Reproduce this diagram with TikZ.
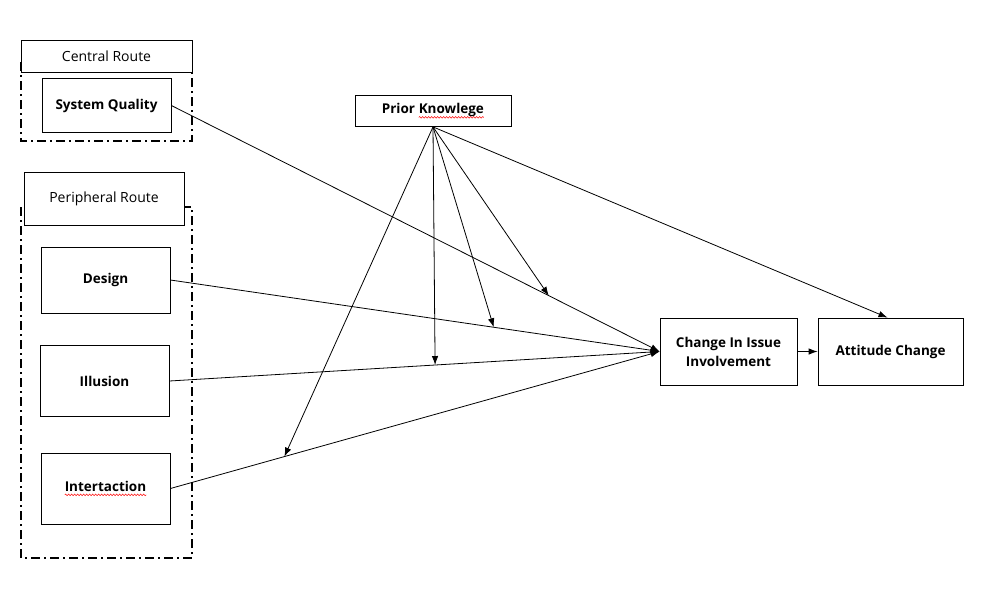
\documentclass[tikz,border=0pt]{standalone}
\usepackage{fontspec}
\setmainfont{Open Sans}
\usetikzlibrary{arrows.meta,calc,decorations.pathmorphing}
\newcommand\spellwave[1]{\tikz[baseline=(sw.base)]{\node[draw=none,fill=none,inner sep=0pt,outer sep=0pt,minimum width=0pt,minimum height=0pt,text height=,text depth=] (sw) {#1};
  \draw[red,line width=0.5pt,decorate,decoration={snake,amplitude=0.8pt,segment length=3pt}] ($(sw.base west)+(0pt,-3.5pt)$) -- ($(sw.base east)+(0pt,-3.5pt)$);}}
\begin{document}
\begin{tikzpicture}[x=1pt,y=-1pt,
  box/.style={draw=black,line width=0.8pt,fill=white,inner sep=0pt,align=center,font=\fontsize{13.5}{19}\selectfont\bfseries},
  lab/.style={draw=black,line width=0.8pt,fill=white,inner sep=0pt,align=center,font=\fontsize{14}{16}\selectfont},
  frame/.style={line width=2.6pt,dash pattern=on 9pt off 4pt on 2pt off 4pt},
  arr/.style={line width=0.8pt,-{Latex[length=9pt,width=6.5pt]}}]
\useasboundingbox (0,0) rectangle (1008,589);
\fill[white] (0,0) rectangle (1008,589);
% frames
\draw[frame] (21,62) rectangle (192,141);
\draw[frame] (21,207) rectangle (192,558);
% boxes
\node[lab,minimum width=171pt,minimum height=32pt] (cr) at (106.5,56) {Central Route};
\node[box,minimum width=129pt,minimum height=54pt] (sq) at (106.5,105.5) {System Quality};
\node[lab,minimum width=160pt,minimum height=53pt] (pr) at (104,198.5) {Peripheral Route};
\node[box,minimum width=129pt,minimum height=66pt] (de) at (105.5,280) {Design};
\node[box,minimum width=129pt,minimum height=71pt] (il) at (104.5,381) {Illusion};
\node[box,minimum width=129pt,minimum height=71pt] (it) at (105.5,488.5) {\spellwave{Intertaction}};
\node[box,minimum width=156pt,minimum height=31pt] (pk) at (433,111) {Prior \spellwave{Knowlege}};
\node[box,minimum width=137pt,minimum height=67pt] (ch) at (728.5,351.5) {Change In Issue\\Involvement};
\node[box,minimum width=145pt,minimum height=67pt] (at) at (890.5,351.5) {Attitude Change};
% main connectors
\draw[arr] (sq.east) -- coordinate[pos=0.773] (m1) (ch.west);
\draw[arr] (de.east) -- coordinate[pos=0.661] (m2) (ch.west);
\draw[arr] (il.east) -- coordinate[pos=0.542] (m3) (ch.west);
\draw[arr] (it.east) -- coordinate[pos=0.233] (m4) (ch.west);
\draw[arr] (ch.east) -- (at.west);
% moderator connectors
\draw[arr] (pk.south) -- (m1);
\draw[arr] (pk.south) -- (m2);
\draw[arr] (pk.south) -- (m3);
\draw[arr] (pk.south) -- (m4);
\draw[arr] (pk.south) -- ($(at.north)+(-3,0)$);
\end{tikzpicture}
\end{document}
